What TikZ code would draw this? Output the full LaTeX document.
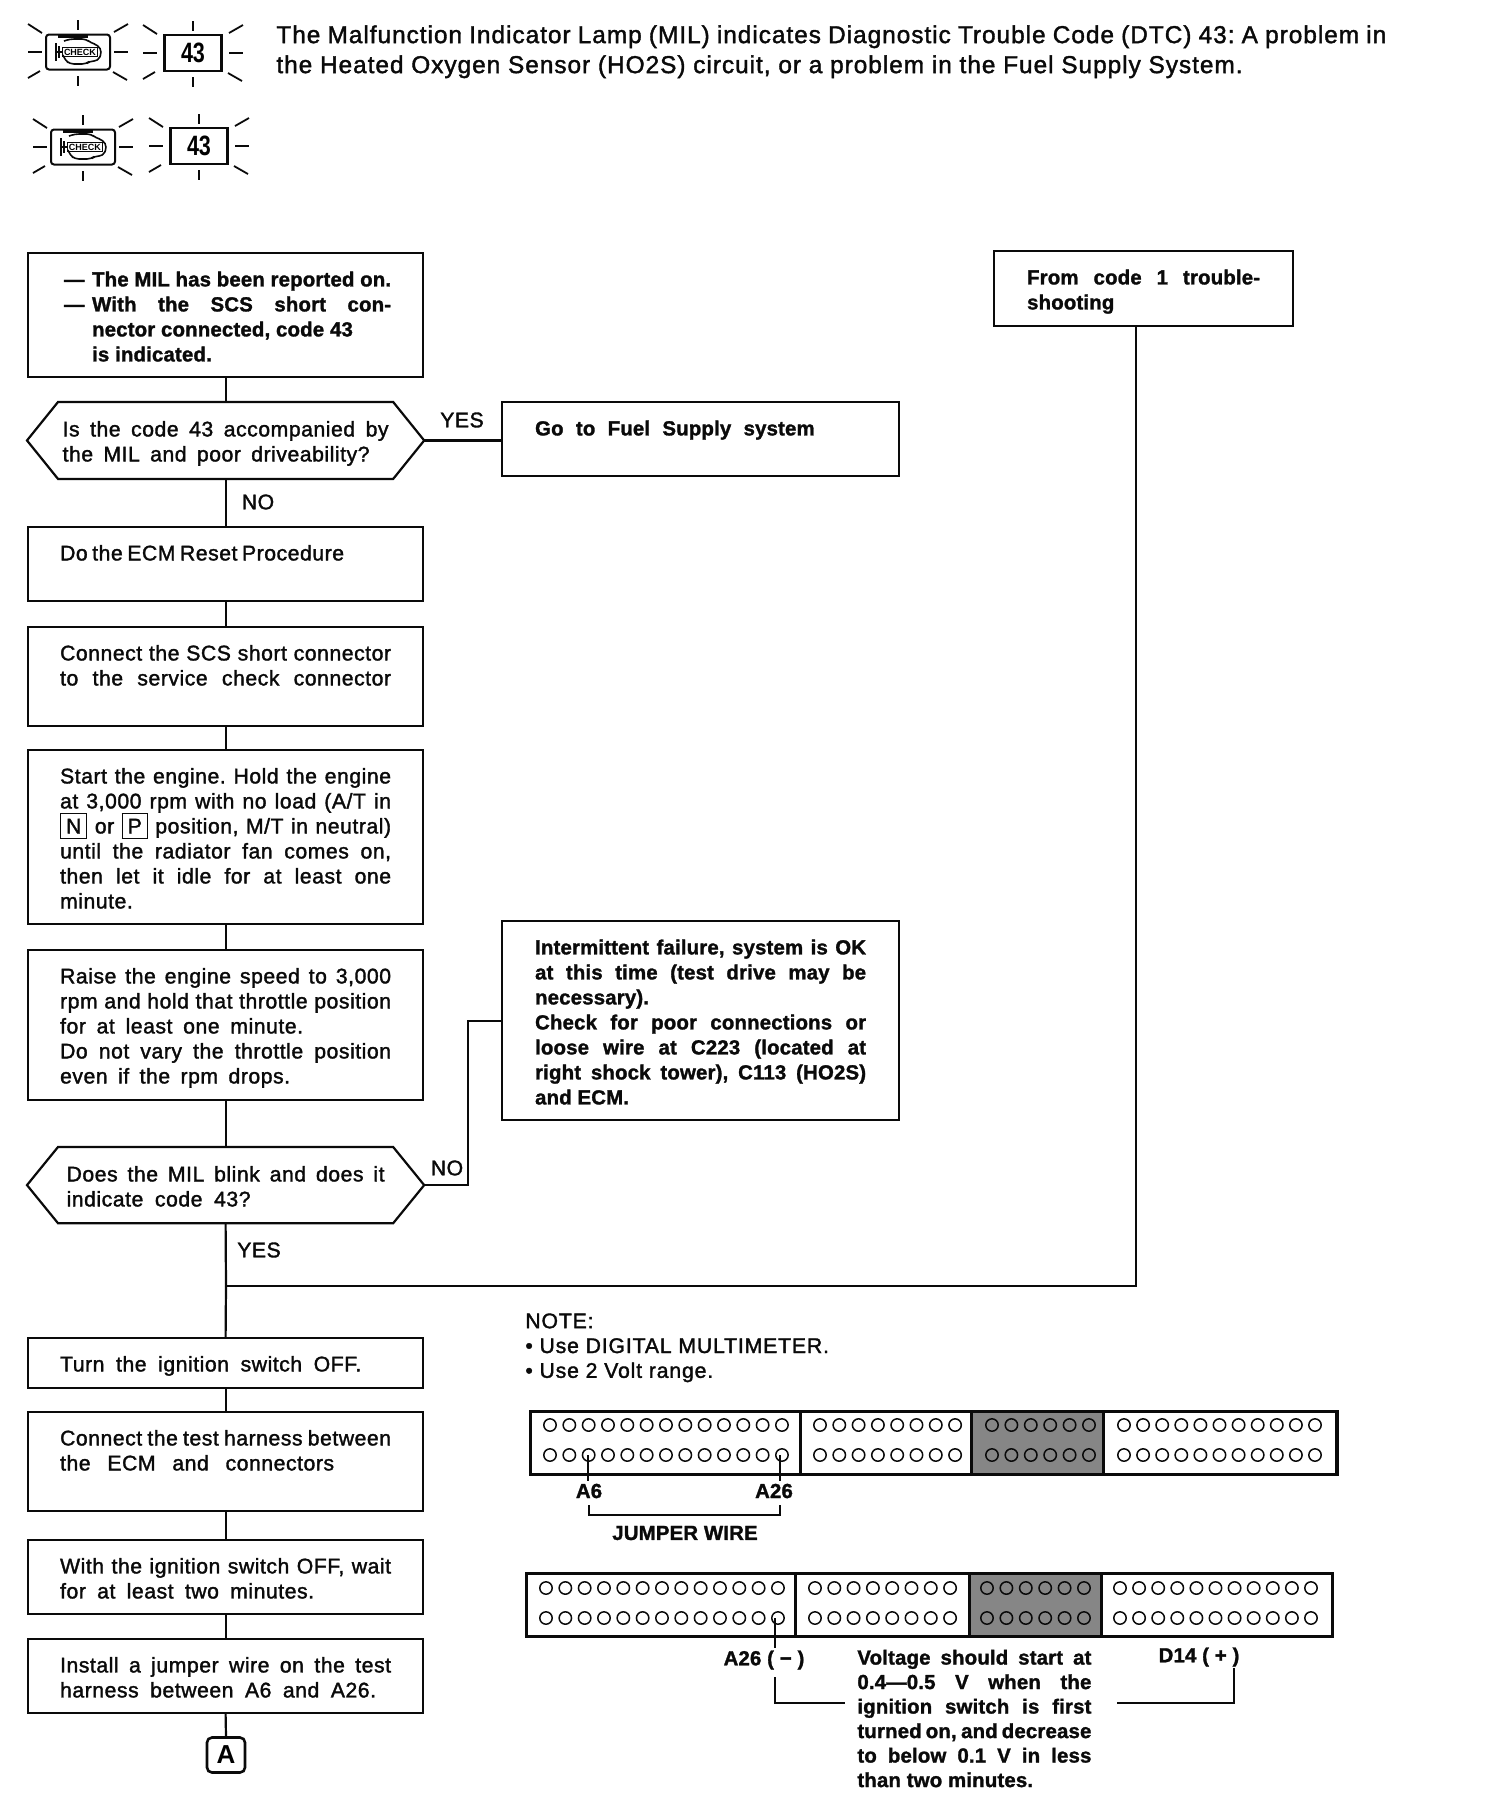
\documentclass[tikz,border=0pt]{standalone}
\usepackage{fontspec}
\usepackage{graphicx}
\setmainfont{Liberation Sans}
\newfontfamily\manualfont[FakeBold=1.6,LetterSpace=2.5]{Liberation Sans}
\newfontfamily\introfont[FakeBold=1.6,LetterSpace=4]{Liberation Sans}
\newfontfamily\manualbold[BoldFeatures={FakeBold=1.4,LetterSpace=0.8}]{Liberation Sans}
\usetikzlibrary{calc}
\definecolor{ScanBlack}{HTML}{0A0A0A}
\definecolor{ScanGrey}{HTML}{868686}
\tikzset{
  wire/.style={ScanBlack, line width=1.1pt},
  thinwire/.style={ScanBlack, line width=0.8pt},
  bodytext/.style={font=\manualfont\fontsize{10.6}{12.5}\selectfont, text=ScanBlack},
  boldtext/.style={font=\manualbold\bfseries\fontsize{10.2}{12.5}\selectfont, text=ScanBlack},
  flowbox/.style={draw=ScanBlack, line width=1.1pt, anchor=north west, bodytext,
    text width=165.5pt, inner xsep=16pt, inner ysep=6pt, align=justify,
    execute at begin node={\tolerance=10000\hbadness=10000\frenchspacing\rule{0pt}{10.65pt}},
    execute at end node={\rule[-1.85pt]{0pt}{1.85pt}}},
  sidebox/.style={flowbox, boldtext, inner xsep=16.5pt},
  askbox/.style={flowbox, draw=none, text width=159pt, inner xsep=19.25pt},
  tagtext/.style={bodytext, inner sep=1pt},
  pintext/.style={boldtext, inner sep=1pt},
  ecmbar/.style={draw=ScanBlack, line width=1.7pt, anchor=north west, minimum height=31.5pt, inner sep=0pt},
  hole/.style={ScanBlack, line width=0.75pt},
  ray/.style={ScanBlack, line width=0.9pt},
  lampframe/.style={draw=ScanBlack, line width=1pt, rounded corners=1.5pt, minimum width=32pt, minimum height=17.5pt, inner sep=0pt},
  digitframe/.style={draw=ScanBlack, line width=1.2pt, minimum width=28.5pt, minimum height=18pt, inner sep=0pt,
    font=\bfseries\fontsize{14}{14}\selectfont},
}
\newcommand{\raysround}[2]{
  \begin{scope}[shift={(#1,#2)}]
    \foreach \ax/\ay/\bx/\by in {-50/0/-36/0, 36/0/50/0, 0/-32/0/-22, 0/24/0/34,
        -50/-28/-36/-19, 36/-20/50/-28, -50/26/-38/19, 35/20/49/28}
      \draw[ray] (\ax,\ay) -- (\bx,\by);
  \end{scope}
}
\newcommand{\enginelamp}[3]{
  \node[lampframe] (#1) at (#2,#3) {};
  \raysround{#2}{#3}
  \begin{scope}[shift={(#2,#3)}]
    \fill[ScanBlack] (-20,-17) rectangle (10,-14);
    \draw[thinwire, rounded corners=2pt] (-14,-11) -- (-8,-13) -- (8,-13) -- (13,-9) -- (20,-7) -- (24,0) -- (20,9) -- (12,9) -- (8,12) -- (-8,12) -- (-13,8) -- (-15,3);
    \draw[thinwire] (-22,-9) -- (-22,9) (-19,-6) -- (-19,6) (-22,0) -- (-15,0);
    \node[font=\bfseries\fontsize{4.5}{4.5}\selectfont, inner sep=0.6pt, draw=ScanBlack, line width=0.5pt] (#1text) at (2,0) {CHECK};
  \end{scope}
}
\newcommand{\hexframe}[1]{
  \draw[wire] (#1.west) -- ($(#1.north west)+(31,0)$) -- ($(#1.north east)+(-31,0)$) -- (#1.east)
    -- ($(#1.south east)+(-31,0)$) -- ($(#1.south west)+(31,0)$) -- cycle;
}
\newcommand{\keybox}[1]{\smash{\fboxsep=2.4pt\fboxrule=0.6pt\fbox{#1}}}
\newcommand{\dashmark}{\hbox to 16pt{\hspace{2pt}—\hfil}}
\newcommand{\spread}[2]{\makebox[#1][s]{#2}}
\begin{document}
\begin{tikzpicture}[x=0.5pt,y=-0.5pt]
  \useasboundingbox (0,0) rectangle (1504,1796);

  \enginelamp{lampone}{78}{52}
  \node[digitframe] (digitone) at (193,53) {\scalebox{0.77}[1]{43}};
  \raysround{193}{53}
  \enginelamp{lamptwo}{83}{147}
  \node[digitframe] (digittwo) at (199,146) {\scalebox{0.77}[1]{43}};
  \raysround{199}{146}

  \node[anchor=north west, font=\introfont\fontsize{12.2}{15}\selectfont, text=ScanBlack, text width=555pt, align=justify, inner sep=0pt,
    execute at begin node={\tolerance=10000\hbadness=10000\frenchspacing}] (intro) at (276,25)
    {The Malfunction Indicator Lamp (MIL) indicates Diagnostic Trouble Code (DTC) 43: A problem in\break
     the Heated Oxygen Sensor (HO2S) circuit, or a problem in the Fuel Supply System.};

  \node[flowbox, boldtext] (report) at (27,252)
    {\dashmark The MIL has been reported on.\break
     \dashmark With the SCS short con-\break
     \hspace*{16pt}nector connected, code 43\hfil\break \hspace*{16pt}is indicated.};
  \node[askbox, text width=163pt, inner xsep=17.25pt] (askcode) at (27,402)
    {Is the code 43 accompanied by\break \spread{153.5pt}{the MIL and poor driveability?}};
  \hexframe{askcode}
  \node[sidebox] (fuel) at (501,401)
    {\spread{139.8pt}{Go to Fuel Supply system}\hfil\break\mbox{}};
  \node[flowbox] (reset) at (27,526)
    {\spread{142pt}{Do the ECM Reset Procedure}\hfil\break\mbox{}};
  \node[flowbox] (scs) at (27,626)
    {Connect the SCS short connector\break to the service check connector\break\mbox{}};
  \node[flowbox] (start) at (27,749)
    {Start the engine. Hold the engine\break
     at 3,000 rpm with no load (A/T in\break
     \keybox{N} or \keybox{P} position, M/T in neutral)\break
     until the radiator fan comes on,\break
     then let it idle for at least one\break
     minute.};
  \node[flowbox] (raise) at (27,949)
    {Raise the engine speed to 3,000\break
     rpm and hold that throttle position\break
     \spread{121.5pt}{for at least one minute.}\hfil\break
     Do not vary the throttle position\break
     \spread{115pt}{even if the rpm drops.}};
  \node[sidebox] (failure) at (501,920)
    {Intermittent failure, system is OK\break
     at this time (test drive may be\break
     necessary).\hfil\break
     Check for poor connections or\break
     loose wire at C223 (located at\break
     right shock tower), C113 (HO2S)\break
     and ECM.};
  \node[askbox] (askblink) at (27,1147)
    {Does the MIL blink and does it\break \spread{92pt}{indicate code 43?}};
  \hexframe{askblink}
  \node[flowbox, boldtext, text width=116.5pt, inner xsep=16.5pt] (fromcode) at (993,250)
    {From code 1 trouble-\break shooting};
  \node[flowbox] (ignoff) at (27,1337)
    {\spread{150.6pt}{Turn the ignition switch OFF.}};
  \node[flowbox] (harness) at (27,1411)
    {Connect the test harness between\break \spread{137pt}{the ECM and connectors}\hfil\break\mbox{}};
  \node[flowbox] (wait) at (27,1539)
    {With the ignition switch OFF, wait\break \spread{127pt}{for at least two minutes.}};
  \node[flowbox] (jumper) at (27,1638)
    {Install a jumper wire on the test\break \spread{158pt}{harness between A6 and A26.}};
  \node[draw=ScanBlack, line width=1.3pt, rounded corners=2.5pt, minimum width=19pt, minimum height=17.5pt, inner sep=0pt,
    font=\bfseries\fontsize{13}{13}\selectfont] (stepA) at (226,1755) {A};

  \node[tagtext] (yesone) at (462,420) {YES};
  \node[tagtext] (noone) at (258,502) {NO};
  \node[tagtext] (notwo) at (447,1168) {NO};
  \node[tagtext] (yestwo) at (259,1250) {YES};

  \coordinate (merge) at (226,1286);
  \coordinate (mergeright) at (1136,1286);
  \coordinate (bend) at (468,1021);
  \draw[wire] (report.south) -- (askcode.north);
  \draw[wire] (askcode.east) -- (askcode.east -| fuel.west);
  \draw[wire] (askcode.south) -- (reset.north);
  \draw[wire] (reset.south) -- (scs.north);
  \draw[wire] (scs.south) -- (start.north);
  \draw[wire] (start.south) -- (raise.north);
  \draw[wire] (raise.south) -- (askblink.north);
  \draw[wire] (askblink.east) -| (bend) -- (bend -| failure.west);
  \draw[wire] (askblink.south) -- (merge);
  \draw[wire] (fromcode.south -| mergeright) -- (mergeright) -- (merge);
  \draw[wire] (merge) -- (ignoff.north);
  \draw[wire] (ignoff.south) -- (harness.north);
  \draw[wire] (harness.south) -- (wait.north);
  \draw[wire] (wait.south) -- (jumper.north);
  \draw[wire] (jumper.south) -- (stepA.north);

  \node[anchor=north west, font=\introfont\fontsize{10.6}{12.4}\selectfont, text=ScanBlack, align=left, inner sep=0pt] (note) at (525,1313)
    {NOTE:\\ \textbullet\ Use DIGITAL MULTIMETER.\\ \textbullet\ Use 2 Volt range.};

  \fill[ScanGrey] (971,1410) rectangle (1103,1473);
  \node[ecmbar, minimum width=403.2pt] (ecmtop) at (529,1410) {};
  \foreach \x in {800,971,1103}
    \draw[ScanBlack, line width=1.5pt] (\x,1410) -- (\x,1473);
  \foreach \y in {1425,1455} {
    \foreach \n in {0,...,12} \draw[hole] (550+19.33*\n,\y) circle (6.2);
    \foreach \n in {0,...,7} \draw[hole] (820+19.3*\n,\y) circle (6.2);
    \foreach \n in {0,...,5} \draw[hole] (992+19.4*\n,\y) circle (6.2);
    \foreach \n in {0,...,10} \draw[hole] (1124+19.1*\n,\y) circle (6.2);
  }
  \fill[ScanGrey] (969,1572) rectangle (1101,1635);
  \node[ecmbar, minimum width=403pt] (ecmlow) at (525,1572) {};
  \foreach \x in {795,969,1101}
    \draw[ScanBlack, line width=1.5pt] (\x,1572) -- (\x,1635);
  \foreach \y in {1588,1618} {
    \foreach \n in {0,...,12} \draw[hole] (546+19.33*\n,\y) circle (6.2);
    \foreach \n in {0,...,7} \draw[hole] (815+19.3*\n,\y) circle (6.2);
    \foreach \n in {0,...,5} \draw[hole] (987+19.4*\n,\y) circle (6.2);
    \foreach \n in {0,...,10} \draw[hole] (1120+19.1*\n,\y) circle (6.2);
  }

  \node[pintext] (pinsix) at (589,1491) {A6};
  \node[pintext] (pintwenty) at (774,1491) {A26};
  \node[pintext] (jumpertext) at (685,1533) {JUMPER WIRE};
  \node[pintext] (pinminus) at (764,1660) {A26 ( − )};
  \node[pintext] (pinplus) at (1199,1657) {D14 ( + )};
  \node[anchor=north west, font=\manualbold\bfseries\fontsize{10.2}{12.25}\selectfont, text=ScanBlack, text width=117pt, align=justify, inner sep=0pt,
    execute at begin node={\tolerance=10000\hbadness=10000\strut},
    execute at end node={\strut}] (voltage) at (857,1647)
    {Voltage should start at\break 0.4—0.5 V when the\break ignition switch is first\break
     turned on, and decrease\break to below 0.1 V in less\break than two minutes.};

  \coordinate (holesix) at (588,1455);
  \coordinate (holetwenty) at (780,1455);
  \coordinate (jumpleft) at (589,1505);
  \coordinate (jumpright) at (780,1505);
  \coordinate (holeminus) at (775,1618);
  \coordinate (hookleft) at (775,1677);
  \coordinate (noteleft) at (845,1703);
  \coordinate (hookright) at (1234,1668);
  \coordinate (noteright) at (1117,1703);
  \draw[thinwire] (holesix) -- (holesix |- pinsix.north);
  \draw[thinwire] (holetwenty) -- (holetwenty |- pintwenty.north);
  \draw[thinwire] (jumpleft) -- ++(0,10) -| (jumpright);
  \draw[thinwire] (holeminus) -- (holeminus |- pinminus.north);
  \draw[thinwire] (hookleft) |- (noteleft);
  \draw[thinwire] (hookright) |- (noteright);
\end{tikzpicture}
\end{document}
